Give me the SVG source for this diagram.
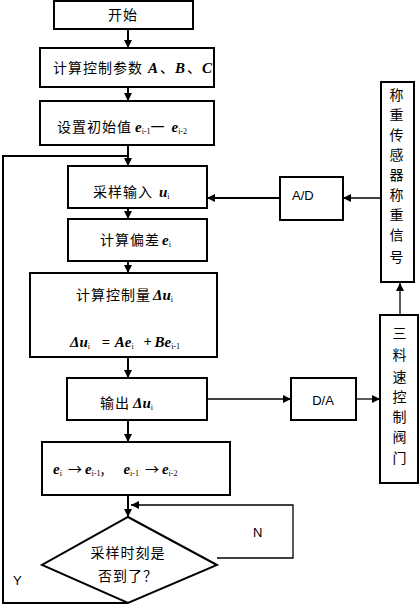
<svg xmlns="http://www.w3.org/2000/svg" width="420" height="613" viewBox="0 0 420 613">
<defs>
<marker id="ah" viewBox="0 0 10 10" refX="10" refY="5" markerWidth="8" markerHeight="8" markerUnits="userSpaceOnUse" orient="auto">
<path d="M0,0 L10,5 L0,10 z" fill="#000"/>
</marker>
</defs>
<style>
.box{fill:#fff;stroke:#000;stroke-width:2}
.cn{font-family:"Noto Sans CJK SC","Noto Sans",sans-serif;font-size:14px;letter-spacing:1px;fill:#000}
.m{font-family:"Liberation Serif",serif;font-style:italic;font-weight:bold;font-size:15px;letter-spacing:0}
.s{font-family:"Liberation Serif",serif;font-size:8px;letter-spacing:0}
.lat{font-family:"Liberation Sans",sans-serif;font-size:13px;fill:#000}
.ln{fill:none;stroke:#000;stroke-width:2}
.th{fill:none;stroke:#000;stroke-width:1.3}
</style>
<g id="connectors">
<line class="ln" x1="128" y1="29" x2="128" y2="48" marker-end="url(#ah)"/>
<line class="ln" x1="128" y1="87" x2="128" y2="101" marker-end="url(#ah)"/>
<line class="ln" x1="128" y1="145" x2="128" y2="166" marker-end="url(#ah)"/>
<line class="ln" x1="128" y1="208" x2="128" y2="219" marker-end="url(#ah)"/>
<line class="ln" x1="128" y1="261" x2="128" y2="273" marker-end="url(#ah)"/>
<line class="ln" x1="128" y1="357" x2="128" y2="378" marker-end="url(#ah)"/>
<line class="ln" x1="128" y1="420" x2="128" y2="442" marker-end="url(#ah)"/>
<line class="ln" x1="128" y1="495" x2="128" y2="517" marker-end="url(#ah)"/>
<polyline class="ln" points="128,603 3,603 3,156 128,156"/>
<polyline class="th" points="217,558 293,558 293,505 131,505" marker-end="url(#ah)"/>
<line class="ln" x1="280" y1="198" x2="207" y2="198" marker-end="url(#ah)"/>
<line class="th" x1="381" y1="198" x2="343" y2="198" marker-end="url(#ah)"/>
<line class="th" x1="207" y1="399" x2="291" y2="399" marker-end="url(#ah)"/>
<line class="th" x1="356" y1="399" x2="380" y2="399" marker-end="url(#ah)"/>
<line class="th" x1="400" y1="315" x2="400" y2="283" marker-end="url(#ah)"/>
</g>
<g id="start">
<rect class="box" x="54" y="1" width="139" height="28"/>
<text class="cn" x="123" y="20" text-anchor="middle">开始</text>
</g>
<g id="calcParams">
<rect class="box" x="40" y="48" width="174" height="39"/>
<text class="cn" x="53" y="73">计算控制参数<tspan class="m" dx="5">A</tspan><tspan dx="2">、</tspan><tspan class="m">B</tspan><tspan dx="2">、</tspan><tspan class="m">C</tspan></text>
</g>
<g id="init">
<rect class="box" x="40" y="101" width="174" height="44"/>
<text class="cn" x="57" y="132">设置初始值<tspan class="m" dx="3">e</tspan><tspan class="s" dy="2">i-1</tspan><tspan dy="-2">一</tspan><tspan class="m" dx="6">e</tspan><tspan class="s" dy="2">i-2</tspan></text>
</g>
<g id="sample">
<rect class="box" x="68" y="166" width="139" height="42"/>
<text class="cn" x="93" y="197">采样输入<tspan class="m" dx="6" font-size="12">u</tspan><tspan class="s" dy="2">i</tspan></text>
</g>
<g id="deviation">
<rect class="box" x="68" y="219" width="139" height="42"/>
<text class="cn" x="100" y="245">计算偏差<tspan class="m" dx="2" font-size="11">e</tspan><tspan class="s" dy="2">i</tspan></text>
</g>
<g id="control">
<rect class="box" x="30" y="273" width="187" height="84"/>
<text class="cn" x="76" y="300">计算控制量<tspan class="m" dx="2">Δu</tspan><tspan class="s" dy="2">i</tspan></text>
<text class="cn" x="70" y="347"><tspan class="m">Δu</tspan><tspan class="s" dy="2">i</tspan><tspan dy="-2" dx="12">=</tspan><tspan class="m" dx="4">Ae</tspan><tspan class="s" dy="2">i</tspan><tspan dy="-2" dx="10">+</tspan><tspan class="m" dx="2">Be</tspan><tspan class="s" dy="2">i-1</tspan></text>
</g>
<g id="output">
<rect class="box" x="67" y="378" width="140" height="42"/>
<text class="cn" x="100" y="408">输出<tspan class="m" dx="3">Δu</tspan><tspan class="s" dy="2">i</tspan></text>
</g>
<g id="shift">
<rect class="box" x="42" y="442" width="188" height="53"/>
<text class="cn" x="53" y="474"><tspan class="m">e</tspan><tspan class="s" dy="2">i</tspan><tspan dy="-2" dx="6">→</tspan><tspan class="m" dx="2">e</tspan><tspan class="s" dy="2">i-1</tspan><tspan dy="-2">,</tspan><tspan class="m" dx="18">e</tspan><tspan class="s" dy="2">i-1</tspan><tspan dy="-2" dx="6">→</tspan><tspan class="m" dx="2">e</tspan><tspan class="s" dy="2">i-2</tspan></text>
</g>
<g id="decision">
<polygon class="box" points="128,517 217,565 128,603 42,565"/>
<text class="cn" x="128" y="558" text-anchor="middle">采样时刻是</text>
<text class="cn" x="128" y="581" text-anchor="middle">否到了？</text>
</g>
<g id="labelN"><text class="lat" x="253" y="537">N</text></g>
<g id="labelY"><text class="lat" x="13" y="585">Y</text></g>
<g id="ad">
<rect class="box" x="280" y="177" width="63" height="43"/>
<text class="lat" x="292" y="200">A/D</text>
</g>
<g id="da">
<rect class="box" x="291" y="378" width="65" height="42"/>
<text class="lat" x="323" y="405" text-anchor="middle">D/A</text>
</g>
<g id="sensor">
<rect class="box" x="381" y="82" width="33" height="200"/>
<text class="cn" x="397" y="100" text-anchor="middle" font-size="12">称</text>
<text class="cn" x="397" y="120" text-anchor="middle" font-size="12">重</text>
<text class="cn" x="397" y="140" text-anchor="middle" font-size="12">传</text>
<text class="cn" x="397" y="160" text-anchor="middle" font-size="12">感</text>
<text class="cn" x="397" y="180" text-anchor="middle" font-size="12">器</text>
<text class="cn" x="397" y="200" text-anchor="middle" font-size="12">称</text>
<text class="cn" x="397" y="220" text-anchor="middle" font-size="12">重</text>
<text class="cn" x="397" y="240" text-anchor="middle" font-size="12">信</text>
<text class="cn" x="397" y="262" text-anchor="middle" font-size="12">号</text>
</g>
<g id="valve">
<rect class="box" x="380" y="315" width="38" height="168"/>
<text class="cn" x="400" y="338" text-anchor="middle" font-size="12">三</text>
<text class="cn" x="400" y="360" text-anchor="middle" font-size="12">料</text>
<text class="cn" x="400" y="382" text-anchor="middle" font-size="12">速</text>
<text class="cn" x="400" y="402" text-anchor="middle" font-size="12">控</text>
<text class="cn" x="400" y="422" text-anchor="middle" font-size="12">制</text>
<text class="cn" x="400" y="442" text-anchor="middle" font-size="12">阀</text>
<text class="cn" x="400" y="463" text-anchor="middle" font-size="12">门</text>
</g>
</svg>
